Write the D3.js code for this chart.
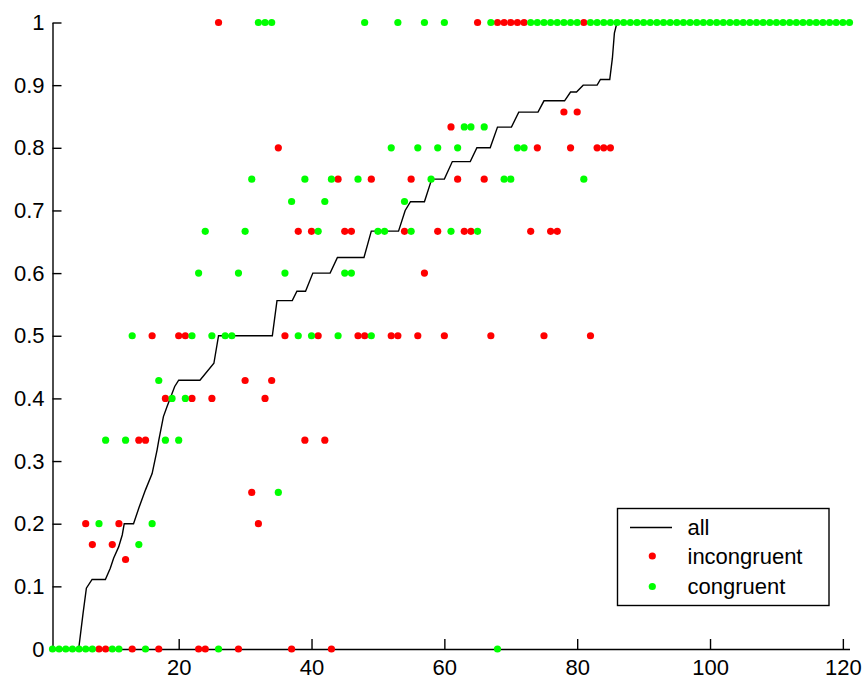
<!DOCTYPE html>
<html>
<head>
<meta charset="utf-8">
<script src="https://cdn.jsdelivr.net/npm/d3@7"></script>
<style>
  html, body { margin: 0; padding: 0; background: #ffffff; }
  svg { display: block; }
  text { font-family: Arial, "Liberation Sans", sans-serif; fill: #000; }
</style>
</head>
<body>
<svg id="chart" width="863" height="680"></svg>
<script>
// ---- data -------------------------------------------------------------
const seriesNames = ["all", "incongruent", "congruent"];

// "all" curve: proportion by position
const allX = [1, 4.94, 5.6, 6.1, 6.96, 8.96, 9.7, 10.2, 10.96, 11.5, 11.8, 13.2, 14.0, 15.0, 16.0, 16.75, 17.0,
  17.7, 18.25, 19.4, 20.0, 23.2, 25.3, 26.0, 34.1, 34.8, 37.1, 37.8, 39.1, 40.2, 42.8, 43.9, 47.9, 49.0,
  53.1, 54.1, 54.9, 57.0, 58.1, 60.0, 61.2, 63.9, 64.9, 66.9, 68.0, 70.1, 71.2, 74.1, 75.0, 78.1, 79.0,
  79.9, 80.9, 83.0, 83.5, 84.9, 85.3, 85.6, 86.0, 121];
const allY = [0, 0, 0.057, 0.097, 0.111, 0.111, 0.129, 0.145, 0.163, 0.182, 0.2, 0.2, 0.225, 0.254, 0.28, 0.318, 0.333,
  0.371, 0.387, 0.419, 0.429, 0.429, 0.456, 0.5, 0.5, 0.556, 0.556, 0.571, 0.571, 0.6, 0.6, 0.625, 0.625, 0.667,
  0.667, 0.7, 0.714, 0.714, 0.75, 0.75, 0.778, 0.778, 0.8, 0.8, 0.833, 0.833, 0.857, 0.857, 0.875, 0.875, 0.889,
  0.889, 0.9, 0.9, 0.909, 0.909, 0.943, 0.983, 1, 1];

// incongruent trials
const incongruentX = [26, 65, 68, 69, 70, 71, 72, 81,
  78, 80,
  61,
  35, 74, 79, 83, 84, 85,
  44, 49, 55, 62, 66,
  38, 40, 45, 46, 54, 59, 63, 64, 73, 76, 77,
  57,
  16, 20, 21, 36, 41, 47, 48, 52, 53, 56, 60, 67, 75, 82,
  30, 34,
  18, 22, 25, 33,
  14, 15, 39, 42,
  31,
  6, 11, 32,
  7, 10,
  12,
  8, 9, 13, 17, 23, 24, 29, 37, 43];
const incongruentY = [1, 1, 1, 1, 1, 1, 1, 1,
  6/7, 6/7,
  5/6,
  0.8, 0.8, 0.8, 0.8, 0.8, 0.8,
  0.75, 0.75, 0.75, 0.75, 0.75,
  2/3, 2/3, 2/3, 2/3, 2/3, 2/3, 2/3, 2/3, 2/3, 2/3, 2/3,
  0.6,
  0.5, 0.5, 0.5, 0.5, 0.5, 0.5, 0.5, 0.5, 0.5, 0.5, 0.5, 0.5, 0.5, 0.5,
  3/7, 3/7,
  0.4, 0.4, 0.4, 0.4,
  1/3, 1/3, 1/3, 1/3,
  0.25,
  0.2, 0.2, 0.2,
  1/6, 1/6,
  1/7,
  0, 0, 0, 0, 0, 0, 0, 0, 0];

// congruent trials
const congruentX = [32, 33, 34, 48, 53, 57, 60, 67,
  73, 74, 75, 76, 77, 78, 79, 80,
  82, 83, 84, 85, 86, 87, 88, 89, 90, 91, 92, 93, 94, 95, 96, 97, 98, 99, 100, 101,
  102, 103, 104, 105, 106, 107, 108, 109, 110, 111, 112, 113, 114, 115, 116, 117, 118, 119, 120, 121,
  63, 64, 66,
  52, 56, 59, 62, 71, 72,
  31, 39, 43, 47, 58, 69, 70, 81,
  37, 42, 54,
  24, 30, 41, 50, 51, 55, 61, 65,
  23, 29, 36, 45, 46,
  13, 22, 25, 27, 28, 38, 40, 44, 49,
  17,
  19, 21,
  9, 12, 18, 20,
  35,
  8, 16,
  14,
  1, 2, 3, 4, 5, 6, 7, 10, 11, 15, 26, 68];
const congruentY = [1, 1, 1, 1, 1, 1, 1, 1,
  1, 1, 1, 1, 1, 1, 1, 1,
  1, 1, 1, 1, 1, 1, 1, 1, 1, 1, 1, 1, 1, 1, 1, 1, 1, 1, 1, 1,
  1, 1, 1, 1, 1, 1, 1, 1, 1, 1, 1, 1, 1, 1, 1, 1, 1, 1, 1, 1,
  5/6, 5/6, 5/6,
  0.8, 0.8, 0.8, 0.8, 0.8, 0.8,
  0.75, 0.75, 0.75, 0.75, 0.75, 0.75, 0.75, 0.75,
  5/7, 5/7, 5/7,
  2/3, 2/3, 2/3, 2/3, 2/3, 2/3, 2/3, 2/3,
  0.6, 0.6, 0.6, 0.6, 0.6,
  0.5, 0.5, 0.5, 0.5, 0.5, 0.5, 0.5, 0.5, 0.5,
  3/7,
  0.4, 0.4,
  1/3, 1/3, 1/3, 1/3,
  0.25,
  0.2, 0.2,
  1/6,
  0, 0, 0, 0, 0, 0, 0, 0, 0, 0, 0, 0];

const xTicks = [20, 40, 60, 80, 100, 120];
const yTicks = [0, 0.1, 0.2, 0.3, 0.4, 0.5, 0.6, 0.7, 0.8, 0.9, 1];
const yTickLabels = ["0", "0.1", "0.2", "0.3", "0.4", "0.5", "0.6", "0.7", "0.8", "0.9", "1"];

// ---- drawing ----------------------------------------------------------
const svg = d3.select("#chart");
const x = d3.scaleLinear().domain([1, 121]).range([52.5, 849.5]);
const y = d3.scaleLinear().domain([0, 1]).range([649, 22.5]);

const colors = { all: "#000000", incongruent: "#ff0000", congruent: "#00ff00" };
const dotR = 3.6;

// axes (left and bottom only, ticks pointing inward)
const yAxis = d3.axisLeft(y)
  .tickValues(yTicks)
  .tickFormat((d, i) => yTickLabels[i])
  .tickSizeInner(-9).tickSizeOuter(0).tickPadding(8);
const xAxis = d3.axisBottom(x)
  .tickValues(xTicks)
  .tickFormat(d3.format("d"))
  .tickSizeInner(-10).tickSizeOuter(0).tickPadding(10);

const gy = svg.append("g").attr("transform", `translate(${x(1)},0)`).call(yAxis);
const gx = svg.append("g").attr("transform", `translate(0,${y(0)})`).call(xAxis);
[gx, gy].forEach(g => {
  g.selectAll("path.domain").attr("stroke", "#000").attr("stroke-width", 1.4);
  g.selectAll(".tick line").attr("stroke", "#000").attr("stroke-width", 1.4);
  g.selectAll(".tick text").attr("font-size", 22).attr("fill", "#000")
    .attr("font-family", "Arial, 'Liberation Sans', sans-serif");
});

// "all" curve
const allPts = allX.map((v, i) => [v, allY[i]]);
svg.append("path")
  .datum(allPts)
  .attr("fill", "none")
  .attr("stroke", colors.all)
  .attr("stroke-width", 1.4)
  .attr("d", d3.line().x(d => x(d[0])).y(d => y(d[1])));

// dot series
function drawDots(xs, ys, color) {
  svg.append("g").selectAll("circle")
    .data(xs.map((v, i) => [v, ys[i]]))
    .join("circle")
    .attr("cx", d => x(d[0]))
    .attr("cy", d => y(d[1]))
    .attr("r", dotR)
    .attr("fill", color);
}
drawDots(incongruentX, incongruentY, colors.incongruent);
drawDots(congruentX, congruentY, colors.congruent);

// legend
const lg = svg.append("g").attr("transform", "translate(617.5,508.5)");
lg.append("rect").attr("width", 211.5).attr("height", 97)
  .attr("fill", "#fff").attr("stroke", "#000").attr("stroke-width", 1.4);
const rowY = [19, 47.5, 78];
seriesNames.forEach((name, i) => {
  if (name === "all") {
    lg.append("line").attr("x1", 12.5).attr("x2", 54.5)
      .attr("y1", rowY[i]).attr("y2", rowY[i])
      .attr("stroke", colors[name]).attr("stroke-width", 1.4);
  } else {
    lg.append("circle").attr("cx", 34.8).attr("cy", rowY[i]).attr("r", dotR).attr("fill", colors[name]);
  }
  lg.append("text").attr("x", 70).attr("y", rowY[i]).attr("dy", "0.35em")
    .attr("font-size", 22).text(name);
});
</script>
</body>
</html>
